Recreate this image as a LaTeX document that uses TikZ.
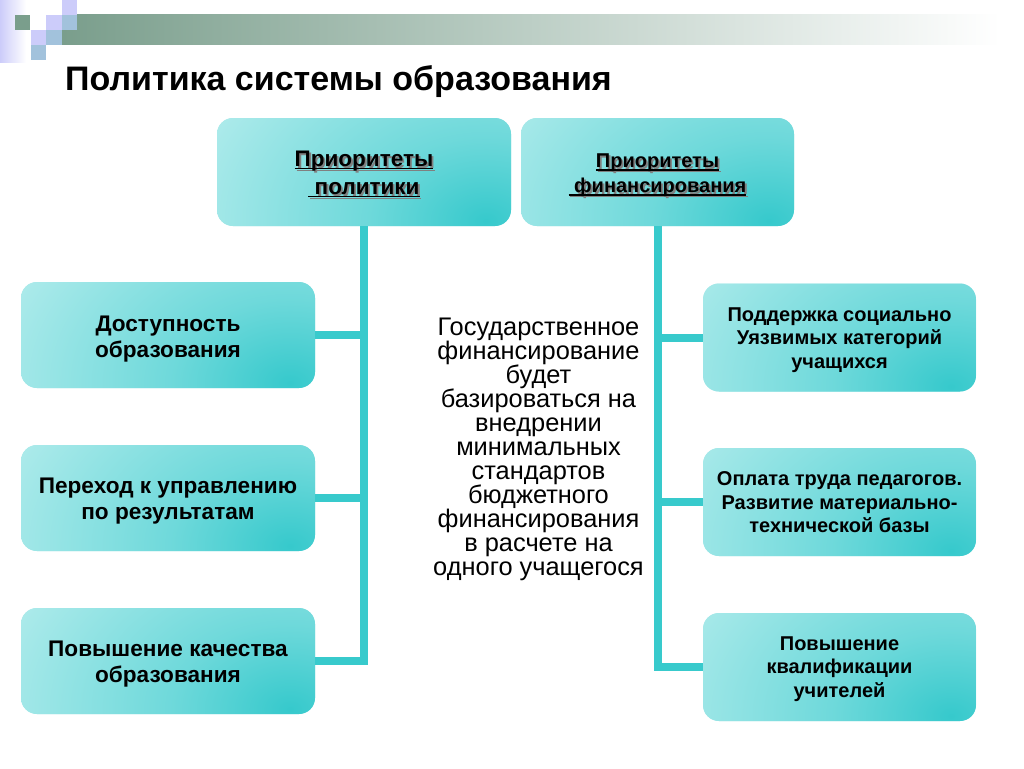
\documentclass[tikz,border=0pt]{standalone}
\usepackage{fontspec}
\setmainfont{Liberation Sans}
\usetikzlibrary{calc}
\definecolor{tlight}{HTML}{B2ECEC}
\definecolor{tdark}{HTML}{36C9CC}
\colorlet{tmid}{tdark!55!tlight}
\definecolor{conncol}{HTML}{38CACC}
\definecolor{barg}{HTML}{7A9E8C}
\definecolor{lav}{HTML}{CCCCFA}
\definecolor{blu}{HTML}{A2C2DC}
\definecolor{shadowgray}{HTML}{808080}
\pgfdeclareradialshading{boxglow}{\pgfpoint{0bp}{0bp}}{color(0bp)=(tdark); color(7bp)=(tmid); color(19bp)=(tlight); color(50bp)=(tlight)}
\newcommand\myul[1]{\setbox0\hbox{#1}\rlap{\rule[-2.8pt]{\wd0}{1.6pt}}\box0}
\begin{document}
\begin{tikzpicture}[x=1pt,y=-1pt,
  tbox/.style={rounded corners=16pt, fill=tlight, inner sep=0pt,
    path picture={\shade[shading=boxglow] ([xshift=-25pt,yshift=5pt]path picture bounding box.south east) ellipse [x radius=420pt, y radius=300pt];}},
  lbox/.style={tbox, minimum width=294pt, minimum height=106pt},
  rbox/.style={tbox, minimum width=273pt, minimum height=108pt},
  ltext/.style={inner sep=0pt, align=center, font=\bfseries\fontsize{22.6}{26}\selectfont},
  rtext/.style={inner sep=0pt, align=center, font=\bfseries\fontsize{20}{23.5}\selectfont},
  htextL/.style={inner sep=0pt, align=center, font=\bfseries\fontsize{22.5}{28}\selectfont},
  htextR/.style={inner sep=0pt, align=center, font=\bfseries\fontsize{20}{25}\selectfont},
  conn/.style={draw=conncol, line width=8pt}
]
\useasboundingbox (0,0) rectangle (1024,768);
\fill[white] (0,0) rectangle (1024,768);
% top decoration
\shade[left color=lav, right color=white] (0,0) rectangle (26,62);
\shade[left color=barg, right color=white] (62,15) rectangle (1000,45);
\fill[lav] (62,0) rectangle (77,15);
\fill[barg] (15,15) rectangle (30,30);
\fill[lav] (46,15) rectangle (62,30);
\fill[blu] (62,15) rectangle (77,30);
\fill[lav] (31,30) rectangle (46,45);
\fill[blu] (46,30) rectangle (62,45);
\fill[blu] (31,45) rectangle (46,60);
% title
\node[anchor=base west, inner sep=0pt, font=\bfseries\fontsize{34}{40}\selectfont] (title) at (65,90) {Политика системы образования};
% header boxes
\node[tbox, minimum width=294pt, minimum height=108pt] (hL) at (364,172) {};
\node[tbox, minimum width=273pt, minimum height=108pt] (hR) at (657.5,172) {};
\node[htextL, text=shadowgray] (hLs) at ($(hL.center)+(1.8,4.1)$) {\myul{Приоритеты}\\\myul{ политики}};
\node[htextL] (hLt) at ($(hL.center)+(0,2.3)$) {\myul{Приоритеты}\\\myul{ политики}};
\node[htextR, text=shadowgray] (hRs) at ($(hR.center)+(1.8,5.3)$) {\myul{Приоритеты}\\\myul{ финансирования}};
\node[htextR] (hRt) at ($(hR.center)+(0,3.5)$) {\myul{Приоритеты}\\\myul{ финансирования}};
% left boxes
\node[lbox] (bL1) at (168,335) {};
\node[lbox] (bL2) at (168,498) {};
\node[lbox] (bL3) at (168,661) {};
\node[ltext] (bL1t) at ($(bL1.center)+(0,4)$) {Доступность\\образования};
\node[ltext] (bL2t) at ($(bL2.center)+(0,3)$) {Переход к управлению\\по результатам};
\node[ltext] (bL3t) at ($(bL3.center)+(0,3)$) {Повышение качества\\образования};
% right boxes
\node[rbox] (bR1) at (839.5,337.5) {};
\node[rbox] (bR2) at (839.5,502) {};
\node[rbox] (bR3) at (839.5,667) {};
\node[rtext] (bR1t) at ($(bR1.center)+(0,2.5)$) {Поддержка социально\\Уязвимых категорий\\учащихся};
\node[rtext] (bR2t) at ($(bR2.center)+(0,0.5)$) {Оплата труда педагогов.\\Развитие материально-\\технической базы};
\node[rtext] (bR3t) at ($(bR3.center)+(0,1.8)$) {Повышение\\квалификации\\учителей};
% centre text
\node[inner sep=0pt, align=center, font=\fontsize{25.4}{24}\selectfont] (mid) at (538.5,449.5) {Государственное\\финансирование\\будет\\базироваться на\\внедрении\\минимальных\\стандартов\\бюджетного\\финансирования\\в расчете на\\одного учащегося};
% connectors
\draw[conn] (hL.south) -- (hL.south |- bL3.east) -- (bL3.east);
\draw[conn] (bL1.east) -- (bL1.east -| hL.south);
\draw[conn] (bL2.east) -- (bL2.east -| hL.south);
\draw[conn] (hR.south) -- (hR.south |- bR3.west) -- (bR3.west);
\draw[conn] (bR1.west) -- (bR1.west -| hR.south);
\draw[conn] (bR2.west) -- (bR2.west -| hR.south);
\end{tikzpicture}
\end{document}
